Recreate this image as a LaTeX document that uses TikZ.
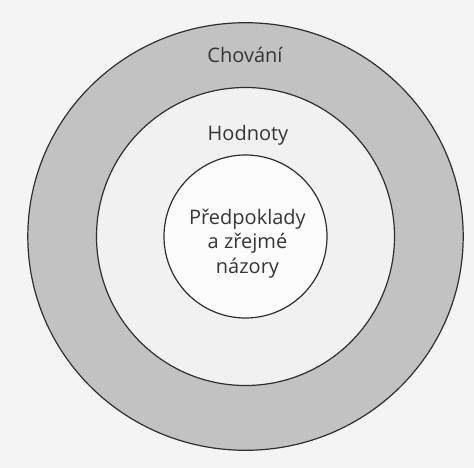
\documentclass[tikz,border=0pt]{standalone}
\usepackage{fontspec}
\setmainfont{Open Sans}
\definecolor{bgc}{HTML}{F4F4F4}
\definecolor{ringc}{HTML}{C2C2C2}
\definecolor{midc}{HTML}{F1F1F1}
\definecolor{innc}{HTML}{FCFCFC}
\definecolor{linec}{HTML}{2E2E2E}
\definecolor{txtc}{HTML}{353535}
\tikzset{
  ring/.style={draw=linec, line width=1.2pt},
  lbl/.style={text=txtc, font=\fontsize{20}{24.5}\selectfont, align=center, inner sep=0pt}
}
\begin{document}
\begin{tikzpicture}[x=1pt,y=-1pt]
\fill[bgc] (0,0) rectangle (474,468);
\useasboundingbox (0,0) rectangle (474,468);
\coordinate (c) at (245.5,236.5);
\draw[ring, fill=ringc] (c) ellipse [x radius=217.7, y radius=213.8];
\draw[ring, fill=midc] (c) circle [radius=149];
\draw[ring, fill=innc] (c) circle [radius=81.5];
\node[lbl, anchor=base] (outer) at (245,62.5) {Chování};
\node[lbl, anchor=base] (middle) at (248,141) {Hodnoty};
\node[lbl, anchor=base] (inner) at (247.5,273) {Předpoklady\\a zřejmé\\názory};
\end{tikzpicture}
\end{document}
